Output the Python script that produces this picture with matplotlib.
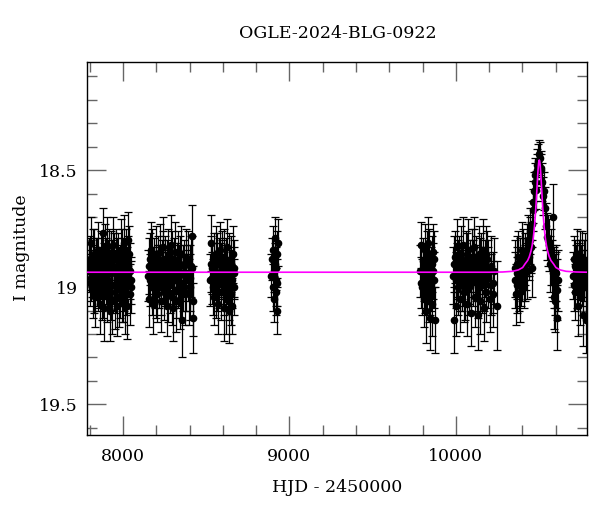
import matplotlib
matplotlib.use("Agg")
import matplotlib.pyplot as plt
from matplotlib.ticker import MultipleLocator, FixedLocator, FixedFormatter

plt.rcParams['font.family'] = ['DejaVu Serif']

# ---------------- data (HJD-2450000, I mag, error) ----------------
s1_t = [7796, 7801, 7805, 7810, 7815, 7820, 7824, 7829, 7834, 7838, 7843, 7848, 7852, 7857, 7861, 7866, 7870, 7875,
        7880, 7884, 7889, 7893, 7898, 7903, 7907, 7912, 7916, 7921, 7926, 7930, 7935, 7939, 7944, 7949, 7953, 7958,
        7962, 7967, 7972, 7976, 7981, 7986, 7990, 7995, 7999, 8004, 8009, 8013, 8018, 8022, 8027, 8033, 8040, 8046, 8050,
        7798, 7808, 7818, 7827, 7836, 7846, 7855, 7864, 7873, 7882, 7891, 7900, 7910, 7919, 7928, 7937, 7946, 7956,
        7965, 7974, 7983, 7992, 8002, 8011, 8020, 8030, 8037, 8043]
s1_m = [18.93, 18.88, 18.98, 18.81, 18.95, 19.01, 18.86, 18.92, 19.04, 18.89, 18.97, 18.84, 19.00, 18.93, 19.07, 18.87, 18.95, 19.02,
        18.77, 18.91, 19.09, 18.85, 18.96, 18.83, 19.03, 18.90, 18.98, 19.10, 18.88, 18.94, 19.06, 18.82, 18.99, 18.92, 19.05, 18.86,
        18.96, 19.08, 18.89, 18.93, 19.01, 18.84, 18.97, 19.03, 18.90, 18.81, 18.98, 19.06, 18.87, 18.95, 19.08, 18.80, 18.93, 19.00, 18.97,
        18.90, 18.96, 18.87, 19.00, 18.93, 18.91, 18.98, 18.94, 18.89, 19.01, 18.94, 18.91, 18.97, 18.86, 19.02, 18.92, 18.88, 18.99,
        18.91, 19.04, 18.94, 18.87, 19.02, 18.92, 18.99, 18.91, 18.86, 19.03]
s1_e = [0.09, 0.10, 0.10, 0.11, 0.09, 0.12, 0.11, 0.10, 0.13, 0.10, 0.11, 0.12, 0.10, 0.09, 0.13, 0.11, 0.10, 0.12,
        0.11, 0.10, 0.14, 0.12, 0.11, 0.13, 0.12, 0.10, 0.11, 0.13, 0.12, 0.10, 0.14, 0.12, 0.11, 0.10, 0.13, 0.11,
        0.12, 0.13, 0.12, 0.10, 0.12, 0.13, 0.11, 0.12, 0.11, 0.12, 0.12, 0.14, 0.12, 0.12, 0.14, 0.12, 0.12, 0.11, 0.10,
        0.11, 0.10, 0.12, 0.11, 0.10, 0.12, 0.11, 0.11, 0.12, 0.12, 0.11, 0.12, 0.12, 0.11, 0.12, 0.12, 0.11, 0.12,
        0.12, 0.13, 0.12, 0.12, 0.13, 0.12, 0.13, 0.13, 0.12, 0.13]

s2_t = [8152, 8157, 8162, 8167, 8172, 8178, 8183, 8188, 8194, 8199, 8205, 8210, 8216, 8221, 8227, 8232, 8238, 8243,
        8249, 8254, 8260, 8265, 8271, 8276, 8282, 8287, 8293, 8298, 8304, 8309, 8315, 8320, 8326, 8331, 8337, 8342,
        8348, 8353, 8359, 8365, 8372, 8380, 8388, 8395, 8402, 8407, 8412, 8418, 8422,
        8155, 8165, 8175, 8186, 8196, 8208, 8218, 8230, 8240, 8251, 8262, 8273, 8285, 8296, 8307, 8318, 8328, 8340,
        8350, 8362, 8376, 8391, 8405, 8415]
s2_m = [18.95, 19.05, 18.88, 18.84, 19.00, 18.93, 19.07, 18.90, 18.97, 18.86, 19.03, 18.92, 18.98, 18.85, 19.06, 18.91, 18.95, 18.83,
        19.02, 18.89, 18.96, 19.08, 18.87, 18.93, 18.99, 18.82, 19.04, 19.09, 18.90, 18.97, 18.85, 19.01, 18.92, 18.88, 18.95, 19.05,
        18.86, 19.14, 18.98, 18.91, 19.03, 18.87, 18.94, 19.02, 19.00, 18.91, 18.78, 19.13, 19.06,
        18.91, 18.97, 18.87, 18.95, 19.01, 18.89, 18.94, 19.00, 18.88, 18.96, 18.91, 19.02, 18.95, 18.88, 18.93, 19.06, 18.97, 18.90,
        19.00, 18.94, 18.97, 18.89, 18.96, 18.92]
s2_e = [0.11, 0.12, 0.11, 0.12, 0.12, 0.10, 0.13, 0.11, 0.12, 0.12, 0.12, 0.10, 0.11, 0.12, 0.13, 0.11, 0.10, 0.13,
        0.12, 0.11, 0.11, 0.13, 0.12, 0.10, 0.12, 0.13, 0.12, 0.14, 0.11, 0.12, 0.13, 0.12, 0.11, 0.12, 0.13, 0.13,
        0.12, 0.16, 0.12, 0.11, 0.13, 0.12, 0.12, 0.14, 0.14, 0.13, 0.13, 0.15, 0.15,
        0.12, 0.11, 0.12, 0.12, 0.12, 0.11, 0.12, 0.12, 0.12, 0.12, 0.11, 0.13, 0.12, 0.12, 0.12, 0.13, 0.12, 0.12,
        0.13, 0.12, 0.13, 0.13, 0.14, 0.14]

s3_t = [8525, 8530, 8535, 8540, 8545, 8550, 8555, 8560, 8565, 8570, 8575, 8580, 8585, 8590, 8595,
        8600, 8605, 8610, 8615, 8620, 8625, 8630, 8635, 8640, 8645, 8650, 8655, 8660, 8665, 8670,
        8528, 8538, 8548, 8558, 8568, 8578, 8588, 8598, 8608, 8618, 8628, 8638, 8648, 8658, 8668]
s3_m = [18.97, 18.81, 18.92, 19.00, 18.88, 19.04, 18.95, 18.86, 18.99, 19.07, 18.90, 18.94, 18.84, 19.02, 18.91,
        18.97, 19.09, 18.87, 18.93, 19.05, 18.83, 18.98, 19.10, 18.89, 18.96, 19.03, 19.08, 18.86, 18.94, 19.00,
        18.90, 18.96, 18.92, 19.01, 18.89, 18.98, 18.93, 18.88, 19.00, 18.91, 18.95, 19.02, 18.90, 18.97, 18.92]
s3_e = [0.11, 0.12, 0.11, 0.12, 0.11, 0.12, 0.10, 0.12, 0.11, 0.13, 0.11, 0.10, 0.12, 0.12, 0.11,
        0.10, 0.14, 0.12, 0.11, 0.15, 0.12, 0.11, 0.14, 0.12, 0.12, 0.13, 0.12, 0.12, 0.11, 0.12,
        0.12, 0.11, 0.11, 0.12, 0.12, 0.11, 0.12, 0.12, 0.12, 0.12, 0.12, 0.12, 0.12, 0.12, 0.12]

s4_t = [8892, 8896, 8899, 8902, 8905, 8908, 8911, 8914, 8917, 8919, 8922, 8924, 8926, 8928, 8930]
s4_m = [18.95, 18.88, 19.00, 18.84, 18.93, 19.05, 18.90, 18.79, 18.97, 19.02, 18.92, 18.86, 18.98, 19.10, 18.81]
s4_e = [0.09, 0.09, 0.10, 0.10, 0.09, 0.10, 0.09, 0.09, 0.11, 0.10, 0.09, 0.10, 0.10, 0.10, 0.10]

s5_t = [9787, 9792, 9797, 9801, 9806, 9810, 9815, 9819, 9823, 9828, 9832, 9837, 9841, 9846, 9850, 9855, 9859, 9864, 9868, 9872,
        9790, 9803, 9813, 9826, 9835, 9844, 9853, 9862, 9870]
s5_m = [18.93, 18.82, 19.00, 18.89, 19.05, 18.95, 18.84, 19.10, 18.91, 18.98, 18.81, 19.03, 18.87, 19.13, 18.94, 18.90, 19.07, 18.85, 18.97, 19.14,
        18.98, 18.93, 18.99, 18.87, 18.95, 19.00, 18.98, 18.93, 18.88]
s5_e = [0.11, 0.10, 0.12, 0.10, 0.12, 0.11, 0.11, 0.14, 0.10, 0.12, 0.11, 0.12, 0.12, 0.14, 0.11, 0.12, 0.14, 0.12, 0.12, 0.14,
        0.11, 0.11, 0.12, 0.11, 0.12, 0.12, 0.12, 0.12, 0.12]

s6_t = [9984, 9989, 9994, 9999, 10004, 10009, 10015, 10020, 10026, 10031, 10037, 10042, 10048, 10053, 10059, 10064,
        10070, 10075, 10081, 10086, 10092, 10097, 10103, 10108, 10114, 10119, 10125, 10130, 10136, 10141, 10147, 10152,
        10158, 10163, 10169, 10175, 10181, 10188, 10195, 10203, 10212, 10220, 10230, 10244,
        9987, 10001, 10012, 10023, 10034, 10045, 10056, 10067, 10078, 10089, 10100, 10111, 10122, 10133, 10144, 10155,
        10166, 10178, 10192, 10208, 10225]
s6_m = [18.95, 19.14, 18.87, 19.08, 18.93, 18.83, 19.00, 18.90, 19.05, 18.86, 18.97, 18.82, 19.02, 18.92, 18.88, 19.07,
        18.95, 18.84, 19.00, 18.91, 19.11, 18.87, 18.96, 18.83, 19.04, 18.90, 18.98, 19.12, 18.86, 18.94, 19.06, 18.89,
        18.99, 18.84, 19.09, 18.92, 19.02, 18.88, 18.96, 19.05, 18.91, 18.98, 18.93, 19.08,
        18.90, 18.97, 18.92, 18.98, 18.93, 18.96, 19.01, 18.89, 18.95, 18.98, 18.92, 18.87, 18.94, 19.00, 18.91, 18.95,
        18.97, 18.86, 18.93, 18.99, 19.03]
s6_e = [0.12, 0.14, 0.11, 0.13, 0.12, 0.12, 0.12, 0.12, 0.14, 0.12, 0.13, 0.12, 0.13, 0.11, 0.12, 0.14,
        0.12, 0.13, 0.12, 0.11, 0.14, 0.12, 0.12, 0.13, 0.13, 0.12, 0.12, 0.15, 0.12, 0.11, 0.14, 0.12,
        0.12, 0.13, 0.14, 0.12, 0.13, 0.12, 0.13, 0.14, 0.13, 0.13, 0.14, 0.19,
        0.12, 0.12, 0.12, 0.12, 0.12, 0.12, 0.13, 0.12, 0.12, 0.12, 0.12, 0.12, 0.12, 0.13, 0.12, 0.12,
        0.13, 0.12, 0.13, 0.13, 0.14]

s7_t = [10356, 10362, 10366, 10370, 10375, 10380, 10388, 10395, 10400, 10405, 10410, 10418, 10425, 10430, 10435,
        10440, 10445, 10450, 10455, 10458, 10462, 10465, 10469, 10473, 10476, 10480, 10485, 10490, 10495, 10500,
        10504, 10509, 10514, 10519, 10524, 10530, 10535, 10544, 10550, 10555, 10560, 10565, 10570, 10575, 10581,
        10585, 10590, 10595, 10600, 10605, 10610,
        10358, 10368, 10383, 10392, 10402, 10414, 10422, 10438, 10448, 10588, 10598, 10603, 10612]
s7_m = [18.97, 19.03, 18.90, 18.94, 18.87, 18.98, 19.02, 18.84, 18.95, 18.90, 18.97, 18.88, 18.84, 18.93, 18.80,
        18.87, 18.76, 18.83, 18.73, 18.92, 18.67, 18.635, 18.59, 18.55, 18.52, 18.585, 18.48, 18.50, 18.46, 18.43,
        18.45, 18.49, 18.50, 18.55, 18.61, 18.59, 18.66, 18.74, 18.785, 18.80, 18.82, 18.90, 18.87, 18.92, 18.70,
        18.94, 19.04, 18.99, 18.97, 19.13, 19.01,
        18.92, 18.99, 18.91, 18.96, 18.86, 18.94, 18.90, 18.84, 18.80, 18.96, 19.06, 18.94, 18.97]
s7_e = [0.12, 0.13, 0.12, 0.11, 0.11, 0.12, 0.13, 0.12, 0.11, 0.11, 0.12, 0.11, 0.11, 0.12, 0.11,
        0.10, 0.10, 0.11, 0.10, 0.12, 0.09, 0.09, 0.08, 0.08, 0.07, 0.08, 0.07, 0.07, 0.07, 0.06,
        0.07, 0.07, 0.07, 0.08, 0.08, 0.08, 0.09, 0.10, 0.10, 0.11, 0.11, 0.12, 0.12, 0.12, 0.14,
        0.12, 0.14, 0.13, 0.12, 0.14, 0.13,
        0.12, 0.12, 0.12, 0.12, 0.11, 0.12, 0.11, 0.11, 0.10, 0.13, 0.13, 0.12, 0.13]

s8_t = [10706, 10711, 10716, 10721, 10726, 10731, 10736, 10741, 10746, 10751, 10756, 10761, 10766, 10771, 10776, 10782,
        10708, 10718, 10728, 10738, 10748, 10758, 10768, 10779]
s8_m = [18.95, 18.88, 19.02, 18.92, 18.86, 19.08, 18.97, 18.90, 19.04, 18.93, 18.87, 19.00, 19.12, 18.95, 18.89, 19.14,
        18.99, 18.91, 18.97, 18.92, 18.88, 18.96, 18.92, 19.00]
s8_e = [0.10, 0.10, 0.12, 0.10, 0.11, 0.13, 0.11, 0.10, 0.12, 0.11, 0.11, 0.12, 0.13, 0.11, 0.12, 0.14,
        0.11, 0.11, 0.12, 0.11, 0.12, 0.12, 0.12, 0.13]

# microlensing model curve
model_t = [7786, 10201, 10281, 10341, 10376, 10401, 10416, 10431, 10441, 10451, 10458, 10465, 10471, 10476, 10481,
           10485, 10488, 10491, 10493, 10495, 10497, 10499, 10501, 10503, 10505, 10507, 10509, 10511, 10514, 10517,
           10521, 10526, 10531, 10537, 10544, 10551, 10561, 10571, 10586, 10601, 10626, 10661, 10721, 10790]
model_m = [18.936, 18.936, 18.935, 18.932, 18.926, 18.916, 18.900, 18.886, 18.870, 18.846, 18.822, 18.789, 18.749, 18.706, 18.653,
           18.604, 18.566, 18.528, 18.505, 18.485, 18.470, 18.460, 18.457, 18.460, 18.470, 18.485, 18.505, 18.528, 18.566, 18.604,
           18.653, 18.706, 18.749, 18.789, 18.822, 18.846, 18.870, 18.886, 18.900, 18.916, 18.926, 18.932, 18.935, 18.936]

title = "OGLE-2024-BLG-0922"
xlabel = "HJD - 2450000"
ylabel = "I magnitude"
xticks = [8000, 9000, 10000]
yticks = [18.5, 19.0, 19.5]
ytick_labels = ["18.5", "19", "19.5"]

t_all = s1_t + s2_t + s3_t + s4_t + s5_t + s6_t + s7_t + s8_t
m_all = s1_m + s2_m + s3_m + s4_m + s5_m + s6_m + s7_m + s8_m
e_all = s1_e + s2_e + s3_e + s4_e + s5_e + s6_e + s7_e + s8_e

fig = plt.figure(figsize=(6.0, 5.12), dpi=100)
ax = fig.add_axes([0.1455, 0.150, 0.8335, 0.729])

ax.errorbar(t_all, m_all, yerr=e_all, fmt='o', color='black', ms=4.5,
            ecolor='black', elinewidth=0.9, capsize=3.0, capthick=0.9, zorder=2)
ax.plot(model_t, model_m, color='#ff00ff', lw=1.2, zorder=3)

ax.set_xlim(7786, 10790)
ax.set_ylim(19.632, 18.038)

ax.xaxis.set_major_locator(FixedLocator(xticks))
ax.xaxis.set_minor_locator(MultipleLocator(200))
ax.yaxis.set_major_locator(FixedLocator(yticks))
ax.yaxis.set_major_formatter(FixedFormatter(ytick_labels))
ax.yaxis.set_minor_locator(MultipleLocator(0.1))

ax.tick_params(which='both', direction='in', top=True, right=True, color='0.4', width=1.0)
ax.tick_params(which='major', length=13.5, labelsize=12.5)
ax.tick_params(axis='x', which='major', pad=9)
ax.tick_params(axis='y', which='major', pad=7)
ax.tick_params(which='minor', length=7)
for sp in ax.spines.values():
    sp.set_linewidth(1.0)
    sp.set_color('black')

fig.text(337.5 / 600, 1 - 33 / 512, title, ha='center', va='center', fontsize=12.5)
fig.text(337.5 / 600, 1 - 488 / 512, xlabel, ha='center', va='center', fontsize=12.5)
fig.text(21 / 600, 1 - 248 / 512, ylabel, ha='center', va='center', rotation=90, fontsize=12.5)

fig.savefig("out.png", dpi=100)
